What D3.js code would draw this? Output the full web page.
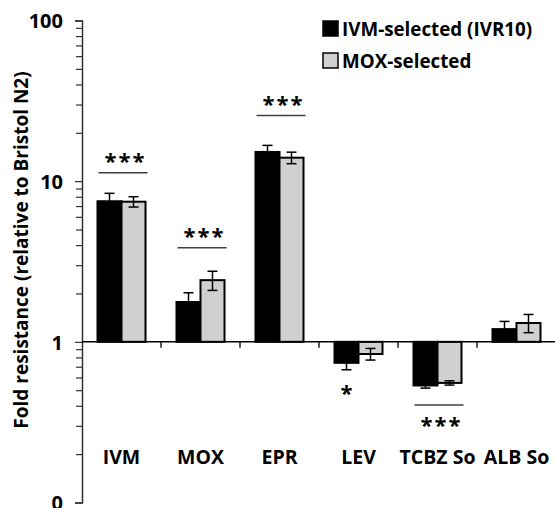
<!DOCTYPE html>
<html>
<head>
<meta charset="utf-8">
<script src="https://cdn.jsdelivr.net/npm/d3@7"></script>
<style>
  body { margin: 0; background: #fff; }
  svg { display: block; font-family: "Open Sans", sans-serif; font-weight: bold; }
</style>
</head>
<body>
<script>
// data
var categories = ["IVM", "MOX", "EPR", "LEV", "TCBZ So", "ALB So"];
var seriesNames = ["IVM-selected (IVR10)", "MOX-selected"];
var ivmValues = [7.5, 1.77, 15.2, 0.74, 0.535, 1.2];
var ivmErr    = [0.9, 0.25, 1.5, 0.07, 0.02, 0.14];
var moxValues = [7.45, 2.42, 14.0, 0.84, 0.555, 1.31];
var moxErr    = [0.55, 0.33, 1.15, 0.07, 0.017, 0.17];
var yTickValues = [0.1, 1, 10, 100];
var yTickLabels = ["0", "1", "10", "100"];
var sigCategories = ["IVM", "MOX", "EPR", "TCBZ So"];
var sigLevels = [11.3, 3.85, 25.6, 0.405];
var sigText = ["***", "***", "***", "***"];
var sigSide = ["above", "above", "above", "below"];
var starCategories = ["LEV"];
var starLevels = [0.57];

var w = 555, h = 508;
var colors = ["#000000", "#d0d0d0"];

var svg = d3.select("body").append("svg")
  .attr("width", w)
  .attr("height", h);

var y = d3.scaleLog().domain([0.1, 100]).range([502.5, 20.5]);
var x = d3.scaleBand().domain(categories).range([82, 556]).padding(0);
var xs = d3.scaleBand().domain([0, 1]).range([-24, 24]);

// minor ticks
var minor = [];
[0.1, 1, 10].forEach(function(d) {
  for (var k = 2; k <= 9; k++) minor.push(d * k);
});
svg.append("g")
  .attr("transform", "translate(82,0)")
  .call(d3.axisLeft(y).tickValues(minor).tickSize(6).tickFormat(""))
  .call(function(g) { g.select(".domain").remove(); })
  .selectAll("line").attr("stroke", "#333").attr("stroke-width", 1.2);

var yAxis = svg.append("g")
  .attr("transform", "translate(82,0)")
  .call(d3.axisLeft(y).tickValues(yTickValues).tickSize(7).tickPadding(12)
    .tickFormat(function(d, i) { return yTickLabels[i]; }));
yAxis.select(".domain").attr("stroke", "#333").attr("stroke-width", 1.5);
yAxis.selectAll("line").attr("stroke", "#333").attr("stroke-width", 1.2);
yAxis.selectAll("text")
  .attr("fill", "#000")
  .attr("dy", "0.36em")
  .style("font-size", "20px")
  .style("font-family", "'Open Sans', sans-serif")
  .style("font-weight", "bold");

// y axis title
svg.append("text")
  .attr("transform", "translate(28,250) rotate(-90)")
  .attr("text-anchor", "middle")
  .style("font-size", "19px")
  .text("Fold resistance (relative to Bristol N2)");

// category separator ticks
svg.selectAll("line.sep")
  .data(categories.slice(1))
  .enter().append("line")
  .attr("class", "sep")
  .attr("x1", function(d) { return x(d); })
  .attr("x2", function(d) { return x(d); })
  .attr("y1", y(1))
  .attr("y2", y(1) + 6)
  .attr("stroke", "#000")
  .attr("stroke-width", 1.3);

// bars
var series = [ivmValues, moxValues];
var errs = [ivmErr, moxErr];
var barData = [];
series.forEach(function(vals, s) {
  vals.forEach(function(v, i) {
    barData.push({ cat: categories[i], s: s, v: v, e: errs[s][i] });
  });
});

svg.selectAll("rect.bar")
  .data(barData)
  .enter().append("rect")
  .attr("class", "bar")
  .attr("x", function(d) { return x(d.cat) + x.bandwidth() / 2 + xs(d.s); })
  .attr("width", xs.bandwidth())
  .attr("y", function(d) { return Math.min(y(d.v), y(1)); })
  .attr("height", function(d) { return Math.abs(y(d.v) - y(1)); })
  .attr("fill", function(d) { return colors[d.s]; })
  .attr("stroke", "#000")
  .attr("stroke-width", 2);

// x axis line at 1
svg.append("line")
  .attr("x1", 82).attr("x2", 555)
  .attr("y1", y(1)).attr("y2", y(1))
  .attr("stroke", "#000").attr("stroke-width", 1.5);

// error bars
var eb = svg.selectAll("g.err")
  .data(barData)
  .enter().append("g")
  .attr("class", "err")
  .attr("transform", function(d) {
    return "translate(" + (x(d.cat) + x.bandwidth() / 2 + xs(d.s) + xs.bandwidth() / 2) + ",0)";
  });
eb.append("line")
  .attr("y1", function(d) { return y(d.v + d.e); })
  .attr("y2", function(d) { return y(d.v - d.e); })
  .attr("stroke", "#000").attr("stroke-width", 1.5);
eb.append("line")
  .attr("x1", -5).attr("x2", 5)
  .attr("y1", function(d) { return y(d.v + d.e); })
  .attr("y2", function(d) { return y(d.v + d.e); })
  .attr("stroke", "#000").attr("stroke-width", 1.5);
eb.append("line")
  .attr("x1", -5).attr("x2", 5)
  .attr("y1", function(d) { return y(d.v - d.e); })
  .attr("y2", function(d) { return y(d.v - d.e); })
  .attr("stroke", "#000").attr("stroke-width", 1.5);

// category labels
svg.selectAll("text.cat")
  .data(categories)
  .enter().append("text")
  .attr("class", "cat")
  .attr("x", function(d) { return x(d) + x.bandwidth() / 2; })
  .attr("y", 464)
  .attr("text-anchor", "middle")
  .style("font-size", "19.5px")
  .text(function(d) { return d; });

// significance lines and stars
var sig = sigCategories.map(function(c, i) {
  return { cat: c, lv: sigLevels[i], t: sigText[i], side: sigSide[i] };
});
svg.selectAll("line.sig")
  .data(sig)
  .enter().append("line")
  .attr("class", "sig")
  .attr("x1", function(d) { return x(d.cat) + x.bandwidth() / 2 - 23; })
  .attr("x2", function(d) { return x(d.cat) + x.bandwidth() / 2 + 26; })
  .attr("y1", function(d) { return y(d.lv); })
  .attr("y2", function(d) { return y(d.lv); })
  .attr("stroke", "#404040").attr("stroke-width", 1.5);
svg.selectAll("text.sig")
  .data(sig)
  .enter().append("text")
  .attr("class", "sig")
  .attr("x", function(d) { return x(d.cat) + x.bandwidth() / 2 + 4; })
  .attr("y", function(d) { return y(d.lv) + (d.side == "above" ? -4 : 28); })
  .attr("text-anchor", "middle")
  .style("font-size", "22px")
  .style("letter-spacing", "2px")
  .text(function(d) { return d.t; });
svg.selectAll("text.star")
  .data(starCategories)
  .enter().append("text")
  .attr("class", "star")
  .attr("x", function(d) { return x(d) + x.bandwidth() / 2 - 12; })
  .attr("y", function(d, i) { return y(starLevels[i]) + 20; })
  .attr("text-anchor", "middle")
  .style("font-size", "22px")
  .text("*");

// legend
var leg = svg.selectAll("g.leg")
  .data(seriesNames)
  .enter().append("g")
  .attr("class", "leg")
  .attr("transform", function(d, i) { return "translate(323," + (21 + i * 32) + ")"; });
leg.append("rect")
  .attr("width", 15).attr("height", 15)
  .attr("fill", function(d, i) { return colors[i]; })
  .attr("stroke", "#000").attr("stroke-width", 1.5);
leg.append("text")
  .attr("x", 19).attr("y", 14.5)
  .style("font-size", "18.8px")
  .text(function(d) { return d; });
</script>
</body>
</html>
